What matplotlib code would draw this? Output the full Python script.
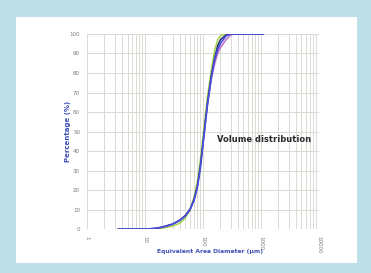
"""
Volume distribution curves (cumulative), log-scaled diameter axis
"""
import matplotlib
matplotlib.use('Agg')
import matplotlib.pyplot as plt
from matplotlib.patches import Rectangle
from matplotlib.ticker import LogLocator, FixedLocator, NullFormatter

# diameter (um) sample points
diameter = [3.5, 10, 15, 20, 30, 40, 50, 60, 70, 80, 90, 100, 110, 120,
            140, 160, 180, 200, 250, 300, 350, 1100]

# cumulative volume percentage for the four samples
purple = [0, 0, 0.3, 1.0, 2.6, 4.6, 7.0, 10.5, 15.5, 22.5, 32, 44, 55, 64,
          77, 85, 90, 93, 97, 99.5, 100, 100]
green = [0, 0, 0.1, 0.5, 1.5, 3.0, 5.8, 10.0, 16.0, 24.0, 35, 47, 58, 68,
         82, 92, 97, 99, 100, 100, 100, 100]
navy = [0, 0, 0.3, 1.0, 2.5, 4.5, 7.0, 10.0, 15.0, 22.0, 32, 44, 55, 65,
        79, 88, 94, 97, 99.5, 100, 100, 100]
blue = [0, 0, 0.3, 1.0, 2.5, 4.4, 6.8, 10.0, 14.5, 21.0, 31, 43, 54, 64,
        78, 87, 92, 95, 99, 100, 100, 100]

y_ticks = [0, 10, 20, 30, 40, 50, 60, 70, 80, 90, 100]
x_ticks = [1, 10, 100, 1000, 10000]
x_labels = ['1', '10', '100', '1000', '10000']

label_color = '#3b4fb5'
tick_color = '#7a7a7a'

fig = plt.figure(figsize=(3.71, 2.73), dpi=100)
fig.patch.set_facecolor('#bde0e8')
fig.patches.append(Rectangle((0.043, 0.037), 0.919, 0.901, transform=fig.transFigure,
                             facecolor='white', edgecolor='none', zorder=-10))

ax = fig.add_axes([0.2345, 0.161, 0.625, 0.7145])
ax.set_zorder(5)
ax.set_facecolor('white')
ax.set_xscale('log')
ax.set_xlim(1, 10000)
ax.set_ylim(0, 100)

# gridlines
ax.xaxis.set_major_locator(FixedLocator(x_ticks))
ax.xaxis.set_minor_locator(LogLocator(base=10, subs=range(2, 10)))
ax.xaxis.set_minor_formatter(NullFormatter())
ax.set_xticklabels(x_labels, rotation=-90)
ax.set_yticks(y_ticks)
ax.grid(True, which='both', axis='x', color='#dadad4', linewidth=0.7)
ax.grid(True, which='major', axis='y', color='#dadad4', linewidth=0.7)
ax.set_axisbelow(True)
for s in ax.spines.values():
    s.set_visible(False)
ax.tick_params(which='both', length=0, labelsize=4, labelcolor=tick_color, pad=5)

# curves
ax.plot(diameter, purple, color='#c070c8', linewidth=1.1)
ax.plot(diameter, green, color='#a6d44c', linewidth=1.1)
ax.plot(diameter, navy, color='#1b2a6b', linewidth=1.1)
ax.plot(diameter, blue, color='#4a4fe0', linewidth=1.2)

ax.text(0.56, 0.46, 'Volume distribution', transform=ax.transAxes,
        fontsize=6, fontweight='semibold', color='#2a2a2a', va='center')

# axis titles
fig.text(210 / 371, 1 - 252 / 273, 'Equivalent Area Diameter (µm)', fontsize=4.3,
         fontweight='bold', color=label_color, ha='center', va='center')
fig.text(68 / 371, 1 - 131 / 273, 'Percentage (%)', fontsize=5.0, fontweight='bold',
         color=label_color, ha='center', va='center', rotation=90)

fig.savefig('out.png', dpi=100, facecolor=fig.get_facecolor())
